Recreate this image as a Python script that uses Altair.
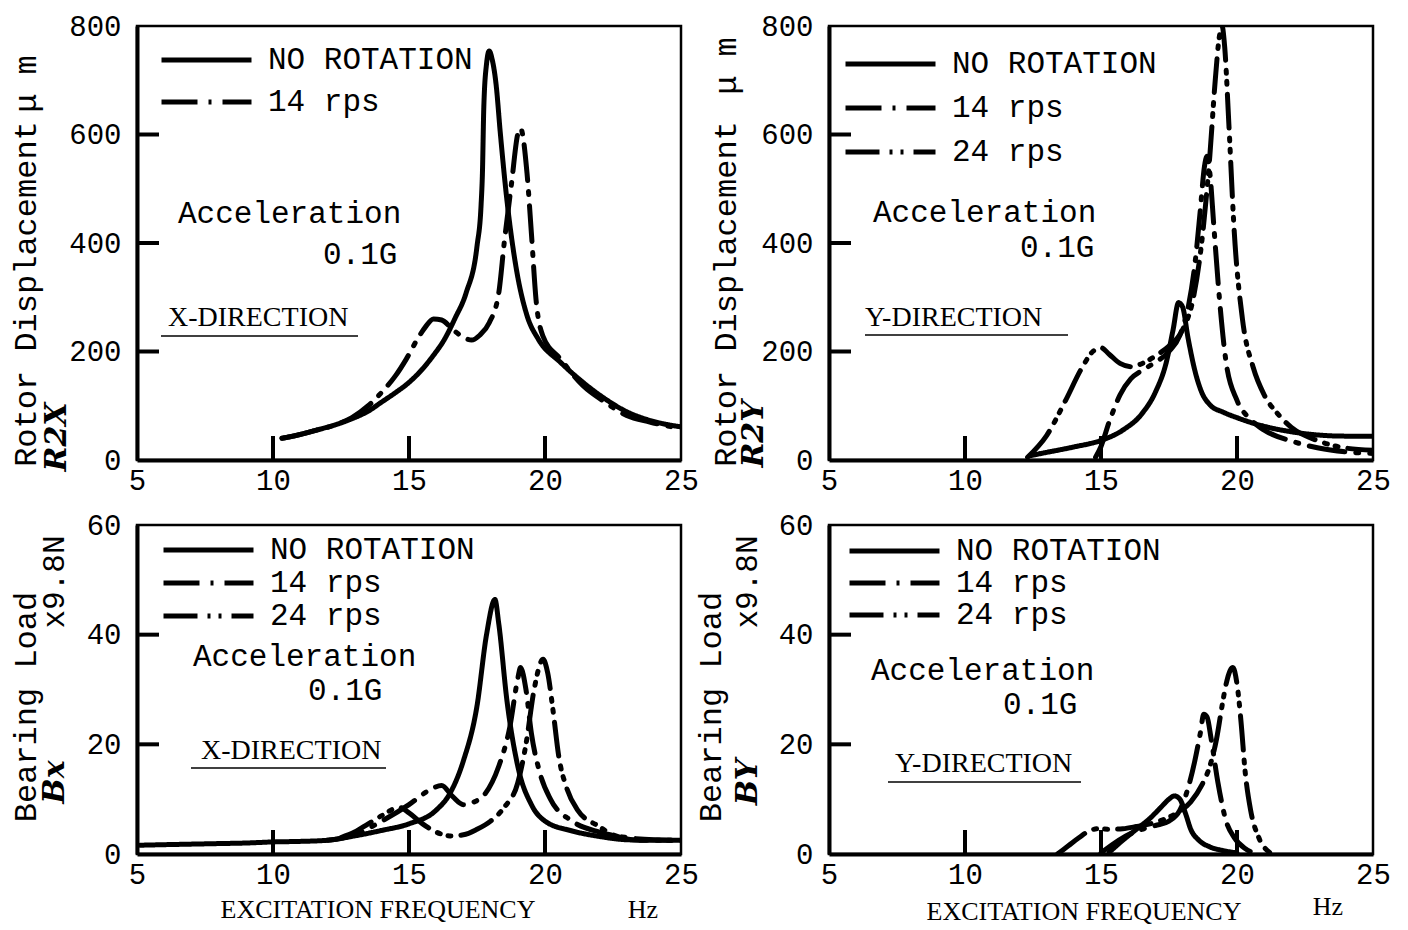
import altair as alt
import pandas as pd

# ---------------- data ----------------
SERIES = ["NO ROTATION", "14 rps", "24 rps"]

# Rotor displacement R2X (um), X-direction
RX_NR_F = [10.33, 11.0, 11.6, 12.3, 12.9, 13.5, 14.0, 14.5, 15.0, 15.5, 15.9, 16.3, 16.7, 17.1, 17.5,
           17.65, 17.7, 17.75, 17.85, 17.95, 18.05, 18.2, 18.36, 18.6, 18.93, 19.34, 19.75, 20.57,
           21.4, 22.2, 23.0, 23.85, 25.0]
RX_NR_V = [40, 47, 55, 65, 76, 90, 107, 124, 143, 168, 193, 222, 262, 308, 394,
           470, 530, 650, 730, 754, 740, 693, 601, 479, 357, 266, 223, 180,
           143, 113, 89, 73, 61]
RX_14_F = [10.33, 11.0, 11.6, 12.3, 12.9, 13.5, 14.0, 14.5, 14.9, 15.3, 15.6, 15.9, 16.2, 16.6, 17.0,
           17.3, 17.6, 17.95, 18.3, 18.5, 18.77, 19.0, 19.1, 19.34, 19.5, 19.67, 19.92, 20.57,
           21.4, 22.2, 23.0, 23.85, 25.0]
RX_14_V = [40, 47, 55, 65, 78, 100, 125, 155, 186, 222, 245, 260, 258, 241, 226,
           221, 230, 253, 308, 400, 510, 601, 611, 528, 418, 296, 229, 186,
           137, 107, 82, 70, 58]

# Rotor displacement R2Y (um), Y-direction
RY_NR_F = [12.4, 13.0, 14.0, 15.0, 15.8, 16.5, 17.0, 17.4, 17.65, 17.85, 18.0, 18.2, 18.45, 18.7,
           19.0, 19.5, 20.0, 21.0, 22.0, 23.0, 24.0, 25.0]
RY_NR_V = [8, 14, 24, 36, 55, 85, 125, 180, 240, 290, 282, 225, 165, 125,
           102, 88, 78, 62, 52, 46, 44, 44]
RY_14_F = [14.8, 15.0, 15.3, 15.7, 16.1, 16.5, 17.0, 17.5, 17.9, 18.2, 18.45, 18.65, 18.8, 18.9,
           19.0, 19.15, 19.35, 19.6, 20.0, 20.5, 21.0, 22.0, 23.0, 24.0, 25.0]
RY_14_V = [5, 25, 70, 120, 150, 165, 180, 200, 230, 280, 360, 460, 540, 560,
           530, 430, 300, 180, 110, 75, 55, 35, 22, 15, 12]
RY_24_F = [12.3, 13.0, 13.7, 14.3, 14.7, 15.0, 15.3, 15.7, 16.1, 16.6, 17.1, 17.5, 18.0, 18.4,
           18.7, 19.0, 19.2, 19.35, 19.45, 19.55, 19.7, 19.9, 20.2, 20.6, 21.0, 21.5, 22.0,
           23.0, 24.0, 25.0]
RY_24_V = [5, 45, 110, 170, 200, 207, 195, 178, 172, 180, 195, 210, 240, 300,
           400, 560, 700, 780, 800, 760, 620, 420, 260, 170, 120, 85, 60,
           35, 22, 18]

# Bearing load Bx (x9.8N), X-direction
BX_NR_F = [5.1, 6.0, 7.0, 8.0, 9.0, 10.0, 11.0, 12.0, 13.0, 14.0, 15.0, 16.0, 16.5, 17.0, 17.5,
           17.85, 18.16, 18.3, 18.6, 19.0, 19.5, 20.0, 21.0, 22.0, 23.0, 24.0, 25.0]
BX_NR_V = [1.6, 1.7, 1.8, 1.9, 2.0, 2.2, 2.3, 2.5, 3.3, 4.3, 5.5, 8.0, 11.0, 17.0, 27.0,
           40.0, 46.4, 42.0, 28.0, 16.0, 9.0, 6.0, 4.2, 3.2, 2.6, 2.5, 2.5]
BX_14_F = [12.0, 13.0, 14.0, 15.0, 15.7, 16.2, 16.6, 17.0, 17.4, 17.8, 18.3, 18.7, 19.0, 19.1,
           19.3, 19.5, 19.8, 20.2, 21.0, 22.0, 23.0, 24.0, 25.0]
BX_14_V = [2.5, 3.5, 6.0, 9.0, 11.5, 12.5, 10.5, 9.0, 9.5, 11.0, 16.0, 23.0, 32.0, 34.0,
           30.0, 22.0, 15.0, 10.0, 6.0, 4.0, 3.0, 2.6, 2.5]
BX_24_F = [12.5, 13.0, 13.5, 14.0, 14.65, 15.0, 15.5, 16.0, 16.5, 17.0, 17.5, 18.0, 18.5, 19.0,
           19.3, 19.6, 19.93, 20.1, 20.3, 20.5, 20.8, 21.2, 22.0, 22.5, 23.5, 25.0]
BX_24_V = [3.0, 4.0, 5.5, 7.0, 8.5, 7.5, 5.5, 4.0, 3.3, 3.5, 4.5, 6.0, 8.5, 13.0,
           20.0, 30.0, 35.5, 33.0, 26.0, 18.0, 12.0, 8.0, 5.0, 3.5, 2.5, 2.5]

# Bearing load By (x9.8N), Y-direction
BY_NR_F = [15.3, 15.8, 16.3, 16.8, 17.2, 17.5, 17.7, 17.9, 18.1, 18.3, 18.6, 19.0, 19.5, 20.0]
BY_NR_V = [0.3, 2.5, 4.5, 6.5, 8.5, 10.0, 10.6, 10.0, 7.5, 4.5, 2.5, 1.3, 0.6, 0.2]
BY_14_F = [15.0, 15.5, 16.0, 16.5, 17.0, 17.5, 17.9, 18.2, 18.45, 18.65, 18.78, 18.9, 19.05,
           19.3, 19.6, 19.9, 20.3, 20.6]
BY_14_V = [0.2, 2.0, 3.5, 4.5, 5.2, 6.0, 8.0, 12.0, 17.0, 22.0, 25.5, 25.0, 21.0,
           13.0, 6.0, 3.0, 1.0, 0.2]
BY_24_F = [13.4, 13.8, 14.2, 14.6, 14.9, 15.3, 15.8, 16.3, 16.8, 17.3, 17.8, 18.3, 18.7, 19.0,
           19.25, 19.45, 19.6, 19.75, 19.85, 20.0, 20.15, 20.3, 20.5, 20.8, 21.2]
BY_24_V = [0.0, 1.5, 3.0, 4.3, 4.6, 4.5, 4.6, 5.0, 5.5, 6.3, 7.5, 9.5, 12.5, 16.0,
           21.0, 27.0, 31.0, 33.5, 34.0, 31.0, 24.0, 15.0, 8.0, 3.0, 0.3]

X_LABELS = [5, 10, 15, 20, 25]
X_INNER_TICKS = [10, 15, 20]
R_Y_LABELS = [0, 200, 400, 600, 800]
R_Y_INNER_TICKS = [200, 400, 600]
B_Y_LABELS = [0, 20, 40, 60]
B_Y_INNER_TICKS = [20, 40]

# ---------------- styling ----------------
MONO = "Liberation Mono"
SERIF = "Liberation Serif"
DASH = {"NO ROTATION": [1, 0], "14 rps": [36, 11, 3, 11], "24 rps": [34, 10, 3, 8, 3, 10]}
W = 544
H_TOP = 434
H_BOT = 329


def frame(pairs):
    rows = []
    for name, fs, vs in pairs:
        for f, v in zip(fs, vs):
            rows.append({"series": name, "f": f, "v": v})
    return pd.DataFrame(rows)


def one():
    return alt.Data(values=[{"k": 0}])


def txt(s, x, y, size=31, font=MONO, angle=0, align="left", style="normal", weight="normal"):
    return alt.Chart(one()).mark_text(
        text=s, font=font, fontSize=size, angle=angle, align=align, baseline="middle",
        color="black", fontStyle=style, fontWeight=weight
    ).encode(x=alt.value(x), y=alt.value(y))


def hline(x1, x2, y, w=1.6):
    return alt.Chart(one()).mark_rule(color="black", strokeWidth=w).encode(
        x=alt.value(x1), x2=alt.value(x2), y=alt.value(y))


def panel(df, names, ymax, ylabels, yticks, H, legend_xy, row_pad, clip_h, extra):
    xs = alt.Scale(domain=[5, 25], nice=False, zero=False)
    ys = alt.Scale(domain=[0, ymax], nice=False)
    xaxis = alt.Axis(values=X_LABELS, title=None, ticks=False, grid=False, domainColor="black",
                     domainWidth=4, labelFont=MONO, labelFontSize=29, labelColor="black",
                     labelPadding=6, labelFlush=False, format="d", labelOverlap=False)
    yaxis = alt.Axis(values=ylabels, title=None, ticks=False, grid=False, domainColor="black",
                     domainWidth=4, labelFont=MONO, labelFontSize=29, labelColor="black",
                     labelPadding=16, format="d", labelOverlap=False)
    lines = alt.Chart(df).mark_line(
        color="black", strokeWidth=5, strokeCap="round", strokeJoin="round",
        interpolate="monotone", clip=True
    ).encode(
        x=alt.X("f:Q", scale=xs, axis=xaxis),
        y=alt.Y("v:Q", scale=ys, axis=yaxis),
        strokeDash=alt.StrokeDash(
            "series:N",
            scale=alt.Scale(domain=names, range=[DASH[n] for n in names]),
            legend=alt.Legend(
                title=None, orient="none", legendX=legend_xy[0], legendY=legend_xy[1],
                symbolType="stroke", symbolSize=8100, symbolStrokeWidth=5,
                symbolStrokeColor="black", labelFont=MONO, labelFontSize=31,
                labelColor="black", labelOffset=14, rowPadding=row_pad, clipHeight=clip_h,
                padding=0, labelLimit=400
            ),
        ),
    )
    xt = alt.Chart(pd.DataFrame({"t": X_INNER_TICKS})).mark_rule(
        color="black", strokeWidth=4).encode(
        x=alt.X("t:Q", scale=xs, axis=xaxis), y=alt.value(H), y2=alt.value(H - 24))
    yt = alt.Chart(pd.DataFrame({"t": yticks})).mark_rule(
        color="black", strokeWidth=4).encode(
        y=alt.Y("t:Q", scale=ys, axis=yaxis), x=alt.value(0), x2=alt.value(22))
    return alt.layer(lines, xt, yt, *extra).properties(width=W, height=H)


tl_df = frame([("NO ROTATION", RX_NR_F, RX_NR_V), ("14 rps", RX_14_F, RX_14_V)])
tr_df = frame([("NO ROTATION", RY_NR_F, RY_NR_V), ("14 rps", RY_14_F, RY_14_V),
               ("24 rps", RY_24_F, RY_24_V)])
bl_df = frame([("NO ROTATION", BX_NR_F, BX_NR_V), ("14 rps", BX_14_F, BX_14_V),
               ("24 rps", BX_24_F, BX_24_V)])
br_df = frame([("NO ROTATION", BY_NR_F, BY_NR_V), ("14 rps", BY_14_F, BY_14_V),
               ("24 rps", BY_24_F, BY_24_V)])

tl = panel(tl_df, SERIES[:2], 800, R_Y_LABELS, R_Y_INNER_TICKS, H_TOP, (22, 16), 6, 36, [
    txt("Rotor Displacement", -111, 268, size=32, angle=270, align="center"),
    txt("\u03bc m", -111, 58, size=32, angle=270, align="center"),
    txt("R2X", -80, 411, size=30, font="DejaVu Serif", angle=270, align="center",
        style="italic", weight="bold"),
    txt("Acceleration", 41, 188),
    txt("0.1G", 186, 229),
    txt("X-DIRECTION", 31, 292, size=28, font=SERIF),
    hline(24, 221, 310),
])

tr = panel(tr_df, SERIES, 800, R_Y_LABELS, R_Y_INNER_TICKS, H_TOP, (14, 20), 8, 36, [
    txt("Rotor Displacement", -103, 268, size=32, angle=270, align="center"),
    txt("\u03bc m", -103, 40, size=32, angle=270, align="center"),
    txt("R2Y", -75, 408, size=30, font="DejaVu Serif", angle=270, align="center",
        style="italic", weight="bold"),
    txt("Acceleration", 44, 187),
    txt("0.1G", 191, 222),
    txt("Y-DIRECTION", 36, 292, size=28, font=SERIF),
    hline(36, 239, 309),
])

bl = panel(bl_df, SERIES, 60, B_Y_LABELS, B_Y_INNER_TICKS, H_BOT, (24, 11), 2, 28, [
    txt("Bearing Load", -111, 182, size=32, angle=270, align="center"),
    txt("x9.8N", -82, 57, size=31, angle=270, align="center"),
    txt("Bx", -82, 257, size=30, font="DejaVu Serif", angle=270, align="center",
        style="italic", weight="bold"),
    txt("Acceleration", 56, 132),
    txt("0.1G", 171, 166),
    txt("X-DIRECTION", 64, 226, size=28, font=SERIF),
    hline(54, 249, 243),
    txt("EXCITATION FREQUENCY", 241, 385, size=26, font=SERIF, align="center"),
    txt("Hz", 506, 385, size=26, font=SERIF, align="center"),
])

br = panel(br_df, SERIES, 60, B_Y_LABELS, B_Y_INNER_TICKS, H_BOT, (18, 12), 1, 28, [
    txt("Bearing Load", -118, 182, size=32, angle=270, align="center"),
    txt("x9.8N", -81, 57, size=31, angle=270, align="center"),
    txt("BY", -81, 257, size=30, font="DejaVu Serif", angle=270, align="center",
        style="italic", weight="bold"),
    txt("Acceleration", 42, 146),
    txt("0.1G", 174, 180),
    txt("Y-DIRECTION", 66, 239, size=28, font=SERIF),
    hline(59, 252, 257),
    txt("EXCITATION FREQUENCY", 255, 387, size=26, font=SERIF, align="center"),
    txt("Hz", 499, 382, size=26, font=SERIF, align="center"),
])

chart = alt.concat(
    tl, tr, bl, br, columns=2, spacing=alt.RowColnumber(row=65, column=148),
    bounds="flush", align="none"
).resolve_scale(strokeDash="independent").resolve_legend(strokeDash="independent").configure_view(
    stroke="black", strokeWidth=2.5
).properties(
    padding={"left": 0, "top": 2, "right": 5, "bottom": 5}, background="white"
)

chart.save("out.html", embed_options={"renderer": "svg", "actions": False})
